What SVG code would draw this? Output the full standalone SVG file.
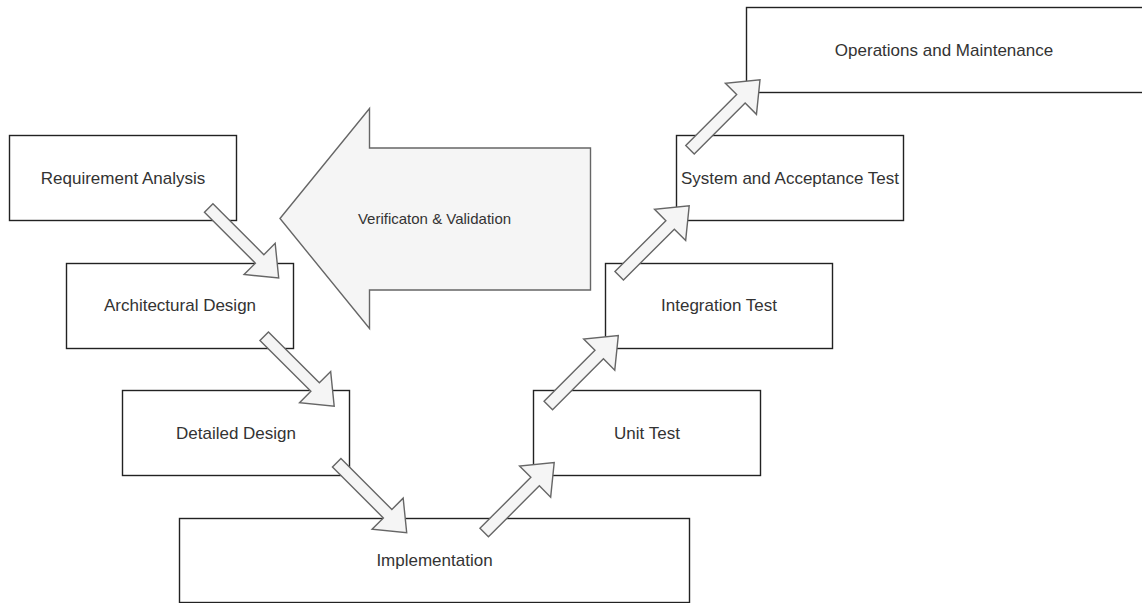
<svg xmlns="http://www.w3.org/2000/svg" xmlns:xlink="http://www.w3.org/1999/xlink" width="1142" height="603" viewBox="0 0 1142 603">
<style>
.box{fill:#ffffff;stroke:#222222;stroke-width:1.4}
.lbl{font-family:"Liberation Sans",Arial,Helvetica,sans-serif;font-size:17px;fill:#333333;text-anchor:middle}
.big{fill:#f5f5f5;stroke:#666666;stroke-width:1.4}
.big-lbl{font-family:"Liberation Sans",Arial,Helvetica,sans-serif;font-size:15px;fill:#333333;text-anchor:middle}
.flow{fill:#f5f5f5;stroke:#666666;stroke-width:1.4;stroke-linejoin:miter}
</style>
<defs>
<path id="arr" d="M0,-6 H72 V-22 L99,0 L72,22 V6 H0 Z"/>
</defs>
<rect width="1142" height="603" fill="#ffffff"/>
<g id="vv">
<polygon class="big" points="280,218.5 369.5,108.5 369.5,148 590.5,148 590.5,290 369.5,290 369.5,328.5"/>
<text class="big-lbl" x="434.5" y="223.5">Verificaton &amp; Validation</text>
</g>
<g id="req"><rect class="box" x="9.5" y="135.5" width="227" height="85"/><text class="lbl" x="123" y="183.5">Requirement Analysis</text></g>
<g id="arch"><rect class="box" x="66.5" y="263.5" width="227" height="85"/><text class="lbl" x="180" y="311">Architectural Design</text></g>
<g id="detail"><rect class="box" x="122.5" y="390.5" width="227" height="85"/><text class="lbl" x="236" y="438.5">Detailed Design</text></g>
<g id="impl"><rect class="box" x="179.5" y="518.5" width="510" height="84"/><text class="lbl" x="434.5" y="566">Implementation</text></g>
<g id="unit"><rect class="box" x="533.5" y="390.5" width="227" height="85"/><text class="lbl" x="647" y="438.5">Unit Test</text></g>
<g id="integ"><rect class="box" x="605.5" y="263.5" width="227" height="85"/><text class="lbl" x="719" y="311">Integration Test</text></g>
<g id="sat"><rect class="box" x="676.5" y="135.5" width="227" height="85"/><text class="lbl" x="790" y="183.5">System and Acceptance Test</text></g>
<g id="ops"><rect class="box" x="746.5" y="7.5" width="400" height="85"/><text class="lbl" x="944" y="55.5">Operations and Maintenance</text></g>
<g id="connectors" class="flow">
<use xlink:href="#arr" href="#arr" transform="translate(208.7,208) rotate(45)"/>
<use xlink:href="#arr" href="#arr" transform="translate(264.2,336.2) rotate(45)"/>
<use xlink:href="#arr" href="#arr" transform="translate(336.7,462.8) rotate(45)"/>
<use xlink:href="#arr" href="#arr" transform="translate(484.2,532.5) rotate(-45)"/>
<use xlink:href="#arr" href="#arr" transform="translate(548.3,405.5) rotate(-45)"/>
<use xlink:href="#arr" href="#arr" transform="translate(619.2,275.8) rotate(-45)"/>
<use xlink:href="#arr" href="#arr" transform="translate(690,149.7) rotate(-45)"/>
</g>
</svg>
